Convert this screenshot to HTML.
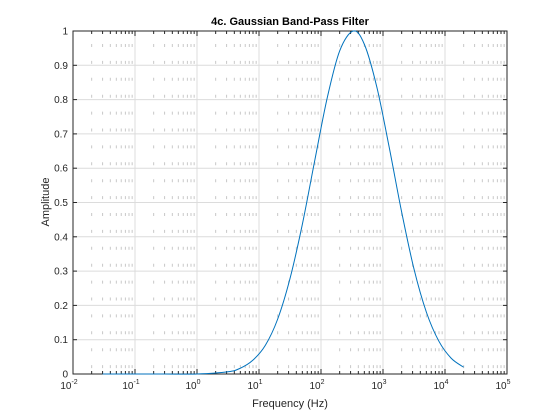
<!DOCTYPE html>
<html><head><meta charset="utf-8"><style>
body{margin:0;background:#fff;}
svg{display:block;font-family:"Liberation Sans",sans-serif;}
</style></head><body>
<svg id="chart" width="560" height="420" viewBox="0 0 560 420" xmlns="http://www.w3.org/2000/svg">
<rect x="0" y="0" width="560" height="420" fill="#fff"/>
<g id="grid"></g>
<g id="ticks"></g>
<g id="labels" font-size="10" fill="#262626"></g>
<rect x="73" y="31" width="434" height="343" fill="none" stroke="#262626" stroke-width="1"/>
<path id="curve" fill="none" stroke="#0072bd" stroke-width="1"/>
<text x="290" y="25" text-anchor="middle" font-size="11" font-weight="bold" fill="#000">4c. Gaussian Band-Pass Filter</text>
<text x="290" y="407" text-anchor="middle" font-size="11" fill="#262626">Frequency (Hz)</text>
<text transform="translate(49,202) rotate(-90)" text-anchor="middle" font-size="11" fill="#262626">Amplitude</text>
</svg>
<script>
const xTickExps = [-2,-1,0,1,2,3,4,5];
const yTicks = [0,0.1,0.2,0.3,0.4,0.5,0.6,0.7,0.8,0.9,1];
const yTickLabels = ["0","0.1","0.2","0.3","0.4","0.5","0.6","0.7","0.8","0.9","1"];
const freqs = [0.03,0.1,0.3,1,3.16,5.01,7.94,12.6,20,31.6,50.1,79.4,126,200,331,501,794,1259,1995,3162,5012,7943,12589,19953];
const amps  = [0,0,0,0,0.0065,0.017,0.040,0.083,0.160,0.278,0.437,0.623,0.805,0.942,1.0,0.961,0.837,0.661,0.473,0.306,0.180,0.096,0.046,0.020];

const L=73,R=507,T=31,B=374;
const xs = f => L + (Math.log10(f)+2)/7*(R-L);
const ys = v => B - v*(B-T);
const NS="http://www.w3.org/2000/svg";
const grid=document.getElementById('grid'), ticks=document.getElementById('ticks'), labels=document.getElementById('labels');
function mk(tag, attrs, parent){const e=document.createElementNS(NS,tag);for(const k in attrs)e.setAttribute(k,attrs[k]);parent.appendChild(e);return e;}

yTicks.forEach((v,i)=>{
  const y=ys(v);
  if(i>0&&i<yTicks.length-1){
    const g=mk('line',{x1:L,x2:R,y1:y,y2:y,stroke:'#dcdcdc','stroke-width':1},grid);
    
    
  }
  mk('line',{x1:L,x2:L+4,y1:y,y2:y,stroke:'#262626'},ticks);
  mk('line',{x1:R,x2:R-4,y1:y,y2:y,stroke:'#262626'},ticks);
  const t=mk('text',{x:L-5,y:y+3.5,'text-anchor':'end'},labels);
  t.textContent=yTickLabels[i];
  
  
});

xTickExps.forEach((e,i)=>{
  const x=xs(Math.pow(10,e));
  if(i>0&&i<xTickExps.length-1){
    const g=mk('line',{x1:x,x2:x,y1:T,y2:B,stroke:'#dcdcdc','stroke-width':1},grid);
    
    
  }
  mk('line',{x1:x,x2:x,y1:B,y2:B-5,stroke:'#262626'},ticks);
  mk('line',{x1:x,x2:x,y1:T,y2:T+5,stroke:'#262626'},ticks);
  const t=mk('text',{x:x-4,y:389,'text-anchor':'middle'},labels);
  
  
  t.appendChild(document.createTextNode('10'));
  const s=mk('tspan',{dy:-5,'font-size':7},t);
  s.textContent=String(e);
  if(i<xTickExps.length-1){
    for(let m=2;m<=9;m++){
      const xm=xs(m*Math.pow(10,e));
      const g=mk('line',{x1:xm,x2:xm,y1:T,y2:B,stroke:'#c8c8c8','stroke-width':1,'stroke-dasharray':'3 13.9','stroke-dashoffset':-13},grid);
      
      
      mk('line',{x1:xm,x2:xm,y1:B,y2:B-3,stroke:'#262626'},ticks);
      mk('line',{x1:xm,x2:xm,y1:T,y2:T+3,stroke:'#262626'},ticks);
    }
  }
});

const pts=freqs.map((f,i)=>[xs(f),ys(amps[i])]);
let d='M'+pts[0][0]+','+pts[0][1];
for(let i=0;i<pts.length-1;i++){
  const p0=pts[Math.max(i-1,0)],p1=pts[i],p2=pts[i+1],p3=pts[Math.min(i+2,pts.length-1)];
  const c1=[p1[0]+(p2[0]-p0[0])/6,p1[1]+(p2[1]-p0[1])/6];
  const c2=[p2[0]-(p3[0]-p1[0])/6,p2[1]-(p3[1]-p1[1])/6];
  d+=' C'+c1[0]+','+c1[1]+' '+c2[0]+','+c2[1]+' '+p2[0]+','+p2[1];
}
document.getElementById('curve').setAttribute('d',d);
</script>
</body></html>
